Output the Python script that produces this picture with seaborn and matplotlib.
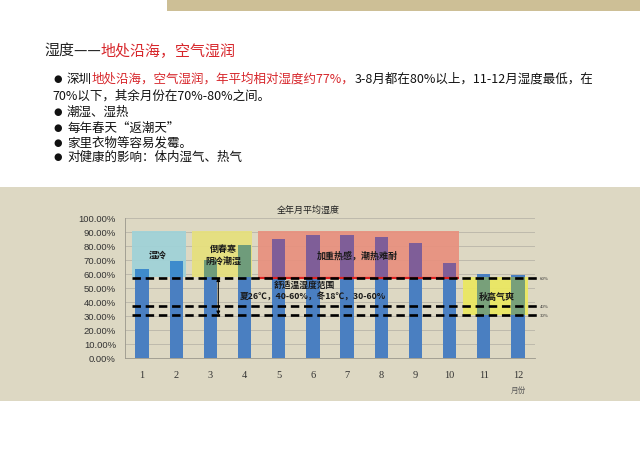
import numpy as np
import pandas as pd
import matplotlib
matplotlib.use("Agg")
import matplotlib.pyplot as plt
from matplotlib.patches import Rectangle
from matplotlib.ticker import FuncFormatter, FixedLocator
import seaborn as sns

sns.set_style("white")
plt.rcParams['font.family'] = ['Noto Sans CJK SC', 'DejaVu Sans']

# data
months = ["1", "2", "3", "4", "5", "6", "7", "8", "9", "10", "11", "12"]
humidity = [63.8, 69.0, 70.0, 81.0, 85.0, 88.0, 88.0, 86.6, 82.0, 68.0, 60.0, 59.5]
y_ticks = [0, 10, 20, 30, 40, 50, 60, 70, 80, 90, 100]

# comfort band lines (drawn where the chart has them) and their labels
band_levels = [57.5, 37.5, 30.7]
band_labels = ["60%", "40%", "30%"]

# shaded zones: (x0, x1, y0, y1, zone colour, colour of bar seen through it, label)
zones = [
    (-0.30, 1.28, 58.0, 91.0, "#9fd2d8", "#3e8bcc", "湿冷"),
    (1.45, 3.23, 58.0, 91.0, "#e6e07c", "#6f9c7b", "倒春寒\n阴冷潮湿"),
    (3.40, 9.27, 57.5, 91.0, "#e8907e", "#7f5e98", "加重热感，潮热难耐"),
    (9.39, 11.29, 30.7, 58.0, "#ebe860", "#78a07a", "秋高气爽"),
]
zone_label_pos = [(0.46, 73.8), (2.37, 74.0), (6.31, 74.0), (10.37, 43.8)]

df = pd.DataFrame({"month": months, "humidity": humidity})

fig = plt.figure(figsize=(6.4, 4.52), dpi=100)
fig.patch.set_facecolor("white")

# slide decorations
fig.patches.append(Rectangle((0.261, 0.974), 0.739, 0.026, transform=fig.transFigure,
                             facecolor="#cdbf96", edgecolor="none", zorder=-2))
fig.patches.append(Rectangle((0, 0.1106), 1, 0.4734, transform=fig.transFigure,
                             facecolor="#ddd8c3", edgecolor="none", zorder=-2))

# chart
ax = fig.add_axes([125 / 640, 93 / 452, 410 / 640, 140 / 452])
ax.set_facecolor("none")


# heading and bullet text (mixed colours chained with annotate)
def rich_line(parts, x, y, size):
    t = fig.text(x, y, parts[0][0], color=parts[0][1], fontsize=size, va="bottom", ha="left")
    for s, c in parts[1:]:
        t = ax.annotate(s, xycoords=t, xy=(1, 0), va="bottom", ha="left",
                        color=c, fontsize=size, annotation_clip=False)
    return t


red = "#d7262b"
rich_line([("湿度——", "#222222"), ("地处沿海，空气湿润", red)], 44 / 640, 1 - 58 / 452, 10.8)

bx, tx = 52 / 640, 67 / 640
bullet_rows = [
    (86, True, [("深圳", "#111111"), ("地处沿海，空气湿润，年平均相对湿度约77%，", red),
                ("3-8月都在80%以上，11-12月湿度最低，在", "#111111")]),
    (103, False, [("70%以下，其余月份在70%-80%之间。", "#111111")]),
    (119, True, [("潮湿、湿热", "#111111")]),
    (135, True, [("每年春天“返潮天”", "#111111")]),
    (150, True, [("家里衣物等容易发霉。", "#111111")]),
    (164, True, [("对健康的影响：体内湿气、热气", "#111111")]),
]
for ypx, has_dot, parts in bullet_rows:
    y = 1 - ypx / 452
    if has_dot:
        fig.text(bx + 0.003, y + 0.016, "●", fontsize=7, va="center", ha="left",
                 color="#111111", family=["DejaVu Sans"])
        rich_line(parts, tx, y, 9)
    else:
        rich_line(parts, bx, y, 9)

sns.barplot(data=df, x="month", y="humidity", order=months, color="#4a7fc1",
            saturation=1, width=0.39, errorbar=None, linewidth=0, ax=ax)
for p in ax.patches:
    p.set_zorder(3)

ax.set_xlim(-0.5, 11.5)
ax.set_ylim(0, 100)
ax.yaxis.set_major_locator(FixedLocator(y_ticks))
ax.yaxis.set_major_formatter(FuncFormatter(lambda v, _: f"{v:.2f}%"))
ax.grid(axis="y", color="#b8b5a8", linewidth=0.6, zorder=0)
ax.set_axisbelow(True)
for s in ["top", "right"]:
    ax.spines[s].set_visible(False)
ax.spines["left"].set_color("#9a978c")
ax.spines["bottom"].set_color("#9a978c")
ax.spines["left"].set_linewidth(0.6)
ax.spines["bottom"].set_linewidth(0.6)
ax.tick_params(axis="y", length=3, width=0.6, color="#9a978c", labelsize=6.8,
               labelcolor="#333333")
ax.tick_params(axis="x", length=0, labelsize=7.5, labelcolor="#333333", pad=9)
ax.set_xticks(np.arange(-0.5, 12, 1), minor=True)
ax.tick_params(axis="x", which="minor", length=3, width=0.6, color="#9a978c")
for lab in ax.get_yticklabels():
    lab.set_family(["Liberation Sans"])
for lab in ax.get_xticklabels():
    lab.set_family(["Liberation Serif"])

# zones with the bars tinted where they pass through
for (x0, x1, y0, y1, zc, bc, lab), (lx, ly) in zip(zones, zone_label_pos):
    rect = Rectangle((x0, y0), x1 - x0, y1 - y0, facecolor=zc, edgecolor="none",
                     alpha=0.93, zorder=2)
    ax.add_patch(rect)
    n0 = len(ax.patches)
    sns.barplot(data=df, x="month", y="humidity", order=months, color=bc,
                saturation=1, width=0.39, errorbar=None, linewidth=0, ax=ax)
    for p in ax.patches[n0:]:
        p.set_clip_path(rect)
        p.set_zorder(4)
    ax.text(lx, ly, lab, ha="center", va="center", fontsize=6.5, fontweight="bold",
            color="#1a1a1a", zorder=7, linespacing=1.3)

ax.set_xlabel("")
ax.set_ylabel("")

# red edge under the hot zone
hot = zones[2]
ax.hlines(hot[2], hot[0], hot[1], color="#e02020", linewidth=1.6, zorder=5)

# comfort band dashed lines
for lvl, lab in zip(band_levels, band_labels):
    ax.hlines(lvl, -0.30, 11.55, color="black", linewidth=1.9,
              linestyles=(0, (3.2, 1.8)), zorder=6, clip_on=False)
    ax.text(11.63, lvl, lab, fontsize=3.5, va="center", ha="left", color="#333333",
            clip_on=False, family=["Liberation Serif"])

ax.annotate("", xy=(2.23, band_levels[2]), xytext=(2.23, band_levels[0]),
            arrowprops=dict(arrowstyle="<|-|>", lw=0.8, color="black",
                            mutation_scale=5, shrinkA=0, shrinkB=0), zorder=7)
ax.text(4.76, 52.9, "舒适温湿度范围", ha="center", va="center", fontsize=6.3,
        fontweight="bold", color="#1a1a1a", zorder=7)
ax.text(4.99, 44.5, "夏26℃，40-60%，冬18℃，30-60%", ha="center", va="center",
        fontsize=6.3, fontweight="bold", color="#1a1a1a", zorder=7)

fig.text(308 / 640, 1 - 210 / 452, "全年月平均湿度", ha="center", va="center",
         fontsize=6.5, color="#222222")
fig.text(518 / 640, 1 - 391 / 452, "月份", ha="center", va="center",
         fontsize=5.5, color="#555555")

fig.savefig("out.png", dpi=100)
